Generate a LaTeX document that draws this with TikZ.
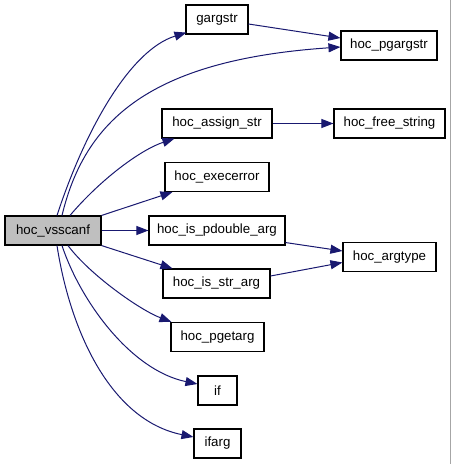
\documentclass[tikz,border=0pt]{standalone}
\usepackage{fontspec}
\setmainfont{Liberation Sans}
\usetikzlibrary{arrows.meta,calc}
\definecolor{navy}{HTML}{191970}
\definecolor{nodegray}{HTML}{BFBFBF}
\begin{document}
\begin{tikzpicture}[x=1pt,y=-1pt,
  box/.style={draw=black,line width=1.1pt,minimum height=29pt,inner sep=0pt,
    fill=white,font=\fontsize{13.3}{15}\selectfont},
  edge/.style={draw=navy,line width=1pt,-{Triangle[length=12pt,width=9pt]}}]
\useasboundingbox (0,0) rectangle (451,464);
\draw[gray!70,line width=1pt] (450.3,0) -- (450.3,464);
% nodes
\node[box,fill=nodegray,minimum width=96pt] (v) at (53,230.5) {hoc\_vsscanf};
\node[box,minimum width=62pt] (g) at (217,19.5) {gargstr};
\node[box,minimum width=96pt] (pg) at (389,45.5) {hoc\_pgargstr};
\node[box,minimum width=110pt] (a) at (217,123.5) {hoc\_assign\_str};
\node[box,minimum width=111pt] (f) at (389.5,123.5) {hoc\_free\_string};
\node[box,minimum width=104pt] (e) at (217,177) {hoc\_execerror};
\node[box,minimum width=136pt] (pd) at (217,230.5) {hoc\_is\_pdouble\_arg};
\node[box,minimum width=93pt] (at) at (389.5,257) {hoc\_argtype};
\node[box,minimum width=107pt] (s) at (216.5,283.5) {hoc\_is\_str\_arg};
\node[box,minimum width=93pt] (pgt) at (217.5,337) {hoc\_pgetarg};
\node[box,minimum width=39pt] (if) at (217.5,390.5) {if};
\node[box,minimum width=47pt] (ifa) at (217.5,443.5) {ifarg};
% edges from hoc_vsscanf
\draw[edge] ($(v.north)+(4,0)$) .. controls (85,130) and (130,50) .. ($(g.south west)+(1,-2)$);
\draw[edge] ($(v.north)+(9,0)$) .. controls (85,120) and (150,60) .. ($(pg.west)+(0,1.5)$);
\draw[edge] ($(v.north)+(17,0)$) .. controls (100,180) and (140,150) .. ($(a.south west)+(13,0)$);
\draw[edge] (v.north east) -- ($(e.south west)+(8,0)$);
\draw[edge] (v.east) -- (pd.west);
\draw[edge] (v.south east) -- ($(s.north west)+(10,0)$);
\draw[edge] ($(v.south)+(15,0)$) .. controls (90,275) and (140,310) .. ($(pgt.north west)+(1,0)$);
\draw[edge] ($(v.south)+(9,0)$) .. controls (80,300) and (130,370) .. ($(if.west)+(0,-6.5)$);
\draw[edge] ($(v.south)+(4,0)$) .. controls (70,330) and (110,420) .. ($(ifa.west)+(0,-6.5)$);
% other edges
\draw[edge] ($(g.east)+(0,4.5)$) -- ($(pg.west)+(0,-7.5)$);
\draw[edge] (a.east) -- (f.west);
\draw[edge] ($(pd.south east)+(0,-3)$) -- ($(at.west)+(0,-6)$);
\draw[edge] ($(s.east)+(0,-7.5)$) -- ($(at.west)+(0,5.5)$);
\end{tikzpicture}
\end{document}
